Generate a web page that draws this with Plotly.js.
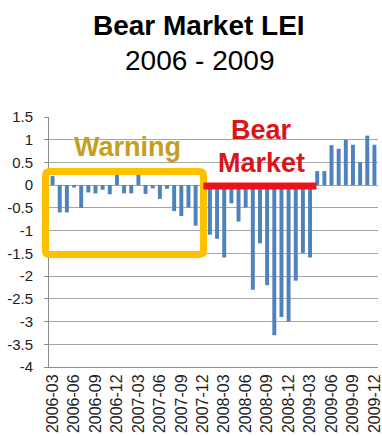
<!DOCTYPE html>
<html><head><meta charset="utf-8">
<script src="https://cdn.plot.ly/plotly-3.0.1.min.js"></script>
<style>html,body{margin:0;padding:0;background:#fff;overflow:hidden}</style>
</head><body>
<div id="chart" style="width:382px;height:436px"></div>
<script>
// ---- data ----
const months = [
  "2006-03","2006-04","2006-05","2006-06","2006-07","2006-08","2006-09","2006-10","2006-11","2006-12",
  "2007-01","2007-02","2007-03","2007-04","2007-05","2007-06","2007-07","2007-08","2007-09","2007-10","2007-11","2007-12",
  "2008-01","2008-02","2008-03","2008-04","2008-05","2008-06","2008-07","2008-08","2008-09","2008-10","2008-11","2008-12",
  "2009-01","2009-02","2009-03","2009-04","2009-05","2009-06","2009-07","2009-08","2009-09","2009-10","2009-11","2009-12"
];
const leiChange = [
  0.2, -0.6, -0.6, -0.05, -0.5, -0.16, -0.18, -0.1, -0.2, 0.23,
  -0.18, -0.18, 0.23, -0.19, -0.07, -0.3, -0.08, -0.57, -0.68, -0.49, -0.89, -0.1,
  -1.09, -1.18, -1.59, -0.4, -0.8, -0.49, -2.3, -1.28, -2.2, -3.3, -2.9, -3.0,
  -2.1, -1.49, -1.59, 0.31, 0.31, 0.88, 0.8, 1.0, 0.89, 0.5, 1.09, 0.89
];
const xTickLabels = ["2006-03","2006-06","2006-09","2006-12","2007-03","2007-06","2007-09","2007-12",
  "2008-03","2008-06","2008-09","2008-12","2009-03","2009-06","2009-09","2009-12"];
const yTickValues = [1.5, 1, 0.5, 0, -0.5, -1, -1.5, -2, -2.5, -3, -3.5, -4];
const yTickLabels = ["1.5","1","0.5","0","-0.5","-1","-1.5","-2","-2.5","-3","-3.5","-4"];
const titleLine1 = "Bear Market LEI";
const titleLine2 = "2006 - 2009";
const warningLabel = "Warning";
const bearLabel1 = "Bear";
const bearLabel2 = "Market";

// ---- geometry helpers (pixel -> paper) ----
const M = {l:49, r:4, t:117, b:69};
const W = 382, H = 436;
const PW = W - M.l - M.r, PH = H - M.t - M.b;
const px = p => (p - M.l) / PW;
const py = p => (H - M.b - p) / PH;

function roundRectPath(x0, y0, x1, y1, r) {
  const X = v => px(v).toFixed(5), Y = v => py(v).toFixed(5);
  return `M ${X(x0+r)} ${Y(y0)} L ${X(x1-r)} ${Y(y0)} Q ${X(x1)} ${Y(y0)} ${X(x1)} ${Y(y0+r)} ` +
         `L ${X(x1)} ${Y(y1-r)} Q ${X(x1)} ${Y(y1)} ${X(x1-r)} ${Y(y1)} ` +
         `L ${X(x0+r)} ${Y(y1)} Q ${X(x0)} ${Y(y1)} ${X(x0)} ${Y(y1-r)} ` +
         `L ${X(x0)} ${Y(y0+r)} Q ${X(x0)} ${Y(y0)} ${X(x0+r)} ${Y(y0)} Z`;
}

const boundaries = [];
for (let k = 0; k <= months.length; k++) boundaries.push(k - 0.5);

const FONT = "Liberation Sans, Arial, sans-serif";
const axisGray = "#8c8c8c";

const trace = {
  type: "bar",
  x: months,
  y: leiChange,
  marker: {color: "#4F81BD"},
  hoverinfo: "skip"
};

const layout = {
  width: W, height: H,
  margin: M,
  paper_bgcolor: "#fff", plot_bgcolor: "#fff",
  showlegend: false,
  bargap: 0.45,
  font: {family: FONT, color: "#222"},
  xaxis: {
    type: "category",
    range: [-0.5, months.length - 0.5],
    tickmode: "array",
    tickvals: xTickLabels,
    ticktext: xTickLabels,
    tickangle: -90,
    tickfont: {size: 16, color: "#222", family: FONT},
    ticks: "",
    showgrid: false,
    showline: true, linecolor: axisGray, linewidth: 1,
    zeroline: false,
    fixedrange: true
  },
  xaxis2: {
    overlaying: "x",
    anchor: "free",
    position: 4 / 5.5,
    type: "linear",
    range: [-0.5, months.length - 0.5],
    tickmode: "array",
    tickvals: boundaries,
    showticklabels: false,
    ticks: "outside", ticklen: 4, tickcolor: axisGray, tickwidth: 1,
    showline: true, linecolor: axisGray, linewidth: 1,
    showgrid: false, zeroline: false,
    fixedrange: true
  },
  yaxis: {
    range: [-4, 1.5],
    tickmode: "array",
    tickvals: yTickValues,
    ticktext: yTickLabels,
    tickfont: {size: 15, color: "#222", family: FONT},
    ticks: "outside", ticklen: 4, tickcolor: axisGray,
    showgrid: true, gridcolor: "#a6a6a6", gridwidth: 1,
    showline: true, linecolor: axisGray, linewidth: 1,
    zeroline: false,
    ticklabelstandoff: 8,
    fixedrange: true
  },
  shapes: [
    {type: "path", xref: "paper", yref: "paper", layer: "above",
     path: roundRectPath(45.5, 171.5, 203.5, 254.5, 4),
     line: {color: "#FFC000", width: 7}},
    {type: "line", xref: "paper", yref: "paper", layer: "above",
     x0: px(203.5), x1: px(316.5), y0: py(186), y1: py(186),
     line: {color: "#E8141C", width: 7}}
  ],
  annotations: [
    {text: "<b>" + titleLine1 + "</b>", xref: "paper", yref: "paper", x: px(199), y: py(26),
     xanchor: "center", yanchor: "middle", showarrow: false, font: {size: 28, color: "#000", family: FONT}},
    {text: titleLine2, xref: "paper", yref: "paper", x: px(199), y: py(60),
     xanchor: "center", yanchor: "middle", showarrow: false, font: {size: 28, color: "#000", family: FONT}},
    {text: "<b>" + warningLabel + "</b>", xref: "paper", yref: "paper", x: px(127), y: py(147),
     xanchor: "center", yanchor: "middle", showarrow: false, font: {size: 27, color: "#C4A020", family: FONT}},
    {text: "<b>" + bearLabel1 + "</b>", xref: "paper", yref: "paper", x: px(261.5), y: py(130),
     xanchor: "center", yanchor: "middle", showarrow: false, font: {size: 27, color: "#DE1219", family: FONT}},
    {text: "<b>" + bearLabel2 + "</b>", xref: "paper", yref: "paper", x: px(261.5), y: py(163),
     xanchor: "center", yanchor: "middle", showarrow: false, font: {size: 27, color: "#DE1219", family: FONT}}
  ]
};

Plotly.newPlot("chart", [trace], layout, {staticPlot: true, displayModeBar: false});
</script>
</body></html>
